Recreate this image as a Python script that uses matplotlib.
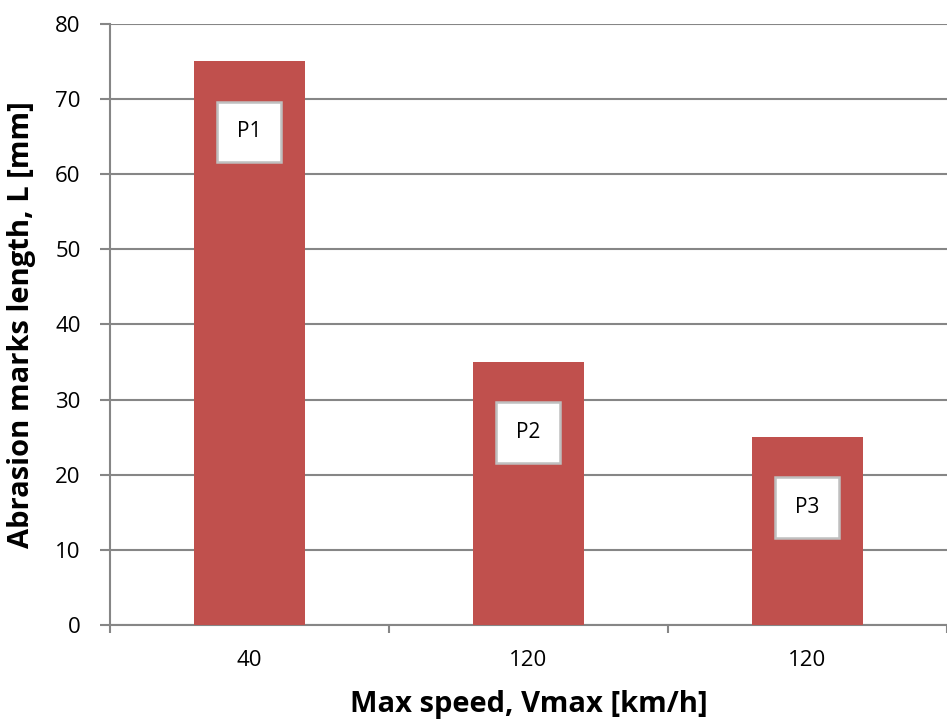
import numpy as np
import matplotlib.pyplot as plt
import matplotlib as mpl
mpl.rc('font', family=['Open Sans', 'DejaVu Sans'])

speeds = ['40', '120', '120']
lengths = [75, 35, 25]
names = ['P1', 'P2', 'P3']

bar_color = '#C0504D'
grid_color = '#868686'

fig = plt.figure(figsize=(9.47, 7.2), dpi=100)
ax = fig.add_axes([0.116, 0.132, 0.884, 0.835])

x = np.arange(len(speeds))
ax.bar(x, lengths, width=0.4, color=bar_color, zorder=3)

for xi, v, n in zip(x, lengths, names):
    ax.text(xi, v - 9.4, n, ha='center', va='center', fontsize=15, zorder=4,
            bbox=dict(boxstyle='square,pad=0.95', fc='white', ec='#BFBFBF', lw=1.8))

ax.set_xlim(-0.5, len(speeds) - 0.5)
ax.set_ylim(0, 80)
ax.set_yticks(np.arange(0, 81, 10))
ax.set_xticks(x)
ax.set_xticklabels(speeds)
ax.set_xticks(np.arange(-0.5, len(speeds), 1.0), minor=True)
ax.tick_params(axis='x', which='major', length=0, pad=18, labelsize=16)
ax.tick_params(axis='x', which='minor', length=6, width=1.5, color=grid_color)
ax.tick_params(axis='y', length=7, width=1.5, color=grid_color, labelsize=16, pad=14)

ax.yaxis.grid(True, color=grid_color, lw=1.5, zorder=0)
for s in ['top', 'right']:
    ax.spines[s].set_visible(False)
for s in ['left', 'bottom']:
    ax.spines[s].set_color(grid_color)
    ax.spines[s].set_linewidth(1.5)

ax.set_xlabel('Max speed, Vmax [km/h]', fontsize=21, fontweight='bold', labelpad=14)
ax.set_ylabel('Abrasion marks length, L [mm]', fontsize=21, fontweight='bold', labelpad=14)

plt.savefig('out.png', dpi=100)
